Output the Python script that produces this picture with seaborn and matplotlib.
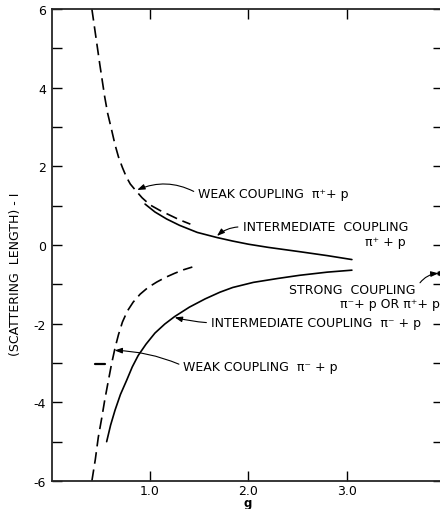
import numpy as np
import pandas as pd
import seaborn as sns
from matplotlib import pyplot as plt
from matplotlib.ticker import MultipleLocator, FixedLocator

# curves: g vs (scattering length)^-1
weak_plus_g = [0.41, 0.45, 0.49, 0.54, 0.57, 0.61, 0.645, 0.68, 0.72, 0.76,
               0.80, 0.85, 0.92, 1.00, 1.10, 1.20, 1.30, 1.41]
weak_plus_y = [6.0, 5.3, 4.6, 3.77, 3.35, 2.93, 2.55, 2.24, 1.97, 1.73,
               1.55, 1.40, 1.20, 1.02, 0.88, 0.76, 0.64, 0.53]

inter_plus_g = [0.95, 1.05, 1.17, 1.30, 1.48, 1.68, 1.84, 2.00, 2.20, 2.52, 2.80, 3.05]
inter_plus_y = [1.04, 0.84, 0.66, 0.50, 0.32, 0.19, 0.10, 0.02, -0.06, -0.17, -0.27, -0.37]

weak_minus_g = [0.41, 0.445, 0.475, 0.51, 0.54, 0.575, 0.61, 0.645, 0.68, 0.72,
                0.77, 0.83, 0.90, 0.98, 1.07, 1.16, 1.25, 1.34, 1.43]
weak_minus_y = [-6.0, -5.45, -4.89, -4.4, -3.95, -3.48, -3.02, -2.62, -2.28, -1.96,
                -1.68, -1.45, -1.25, -1.08, -0.94, -0.82, -0.72, -0.63, -0.56]

inter_minus_g = [0.56, 0.60, 0.645, 0.70, 0.763, 0.82, 0.88, 0.96, 1.05, 1.15,
                 1.25, 1.40, 1.56, 1.71, 1.84, 2.05, 2.30, 2.52, 2.80, 3.05]
inter_minus_y = [-5.0, -4.58, -4.2, -3.8, -3.44, -3.1, -2.81, -2.52, -2.24, -2.01,
                 -1.82, -1.58, -1.37, -1.20, -1.08, -0.95, -0.85, -0.77, -0.69, -0.64]

strong_g = [3.93]
strong_y = [-0.72]

mark_g = [0.44, 0.54]
mark_y = [-3.02, -3.02]

x_ticks = [1.0, 2.0, 3.0]
x_tick_labels = ["1.0", "2.0", "3.0"]
y_ticks = [-6, -4, -2, 0, 2, 4, 6]

sns.set_style("ticks")
plt.rcParams['font.family'] = ['DejaVu Sans']
plt.rcParams['axes.unicode_minus'] = False
plt.rcParams['text.color'] = 'black'
plt.rcParams['axes.labelcolor'] = 'black'
plt.rcParams['xtick.color'] = 'black'
plt.rcParams['ytick.color'] = 'black'

fig = plt.figure(figsize=(4.4, 5.1), dpi=100)
ax = fig.add_axes([51.5 / 440, 28 / 510, 391 / 440, 472 / 510])

dash = (0, (7, 3.5))
sns.lineplot(x=weak_plus_g, y=weak_plus_y, sort=False, color="black", lw=1.2,
             linestyle=dash, ax=ax)
sns.lineplot(x=inter_plus_g, y=inter_plus_y, sort=False, color="black", lw=1.2, ax=ax)
sns.lineplot(x=weak_minus_g, y=weak_minus_y, sort=False, color="black", lw=1.2,
             linestyle=dash, ax=ax)
sns.lineplot(x=inter_minus_g, y=inter_minus_y, sort=False, color="black", lw=1.2, ax=ax)
sns.lineplot(x=mark_g, y=mark_y, sort=False, color="black", lw=1.6, ax=ax)
sns.scatterplot(x=strong_g, y=strong_y, color="black", s=14, ax=ax, clip_on=False)

ax.set_xlim(0, 3.97)
ax.set_ylim(-6, 6)
ax.xaxis.set_major_locator(FixedLocator(x_ticks))
ax.set_xticklabels(x_tick_labels)
ax.yaxis.set_major_locator(FixedLocator(y_ticks))
ax.yaxis.set_minor_locator(MultipleLocator(1))
ax.tick_params(which="both", direction="in", length=7, width=1,
               top=True, right=True, labelsize=9)
ax.tick_params(axis="x", pad=2)
ax.tick_params(axis="y", pad=4)
for s in ax.spines.values():
    s.set_linewidth(1.3)

ax.set_ylabel("(SCATTERING  LENGTH) - I", fontsize=9)
ax.yaxis.set_label_coords(-0.075, 0.44)
ax.set_xlabel("g", fontsize=8.5, fontweight="bold")
ax.xaxis.set_label_coords(0.503, -0.031)

fs = 9
arr = dict(arrowstyle="-|>,head_length=0.5,head_width=0.18", color="black", lw=0.8,
           shrinkA=1, shrinkB=0)

ax.annotate("WEAK COUPLING  π⁺+ p", xy=(0.87, 1.40), xytext=(1.49, 1.30),
            ha="left", va="center", fontsize=fs,
            arrowprops=dict(arr, relpos=(0, 0.5), connectionstyle="arc3,rad=0.25"))
ax.annotate("INTERMEDIATE  COUPLING", xy=(1.68, 0.23), xytext=(1.94, 0.46),
            ha="left", va="center", fontsize=fs,
            arrowprops=dict(arr, relpos=(0, 0.5), connectionstyle="arc3,rad=0.2"))
ax.text(3.60, 0.08, "π⁺ + p", ha="right", va="center", fontsize=fs)
ax.annotate("STRONG  COUPLING", xy=(3.93, -0.72), xytext=(3.70, -1.14),
            ha="right", va="center", fontsize=fs, annotation_clip=False,
            arrowprops=dict(arr, relpos=(1, 0.5), connectionstyle="arc3,rad=-0.3"))
ax.text(3.94, -1.50, "π⁻+ p OR π⁺+ p", ha="right", va="center", fontsize=fs)
ax.annotate("INTERMEDIATE COUPLING  π⁻ + p", xy=(1.25, -1.84), xytext=(1.62, -1.98),
            ha="left", va="center", fontsize=fs,
            arrowprops=dict(arr, relpos=(0, 0.5), connectionstyle="arc3,rad=-0.05"))
ax.annotate("WEAK COUPLING  π⁻ + p", xy=(0.64, -2.68), xytext=(1.34, -3.08),
            ha="left", va="center", fontsize=fs,
            arrowprops=dict(arr, relpos=(0, 0.5), connectionstyle="arc3,rad=0.1"))

fig.savefig("out.png", dpi=100)
